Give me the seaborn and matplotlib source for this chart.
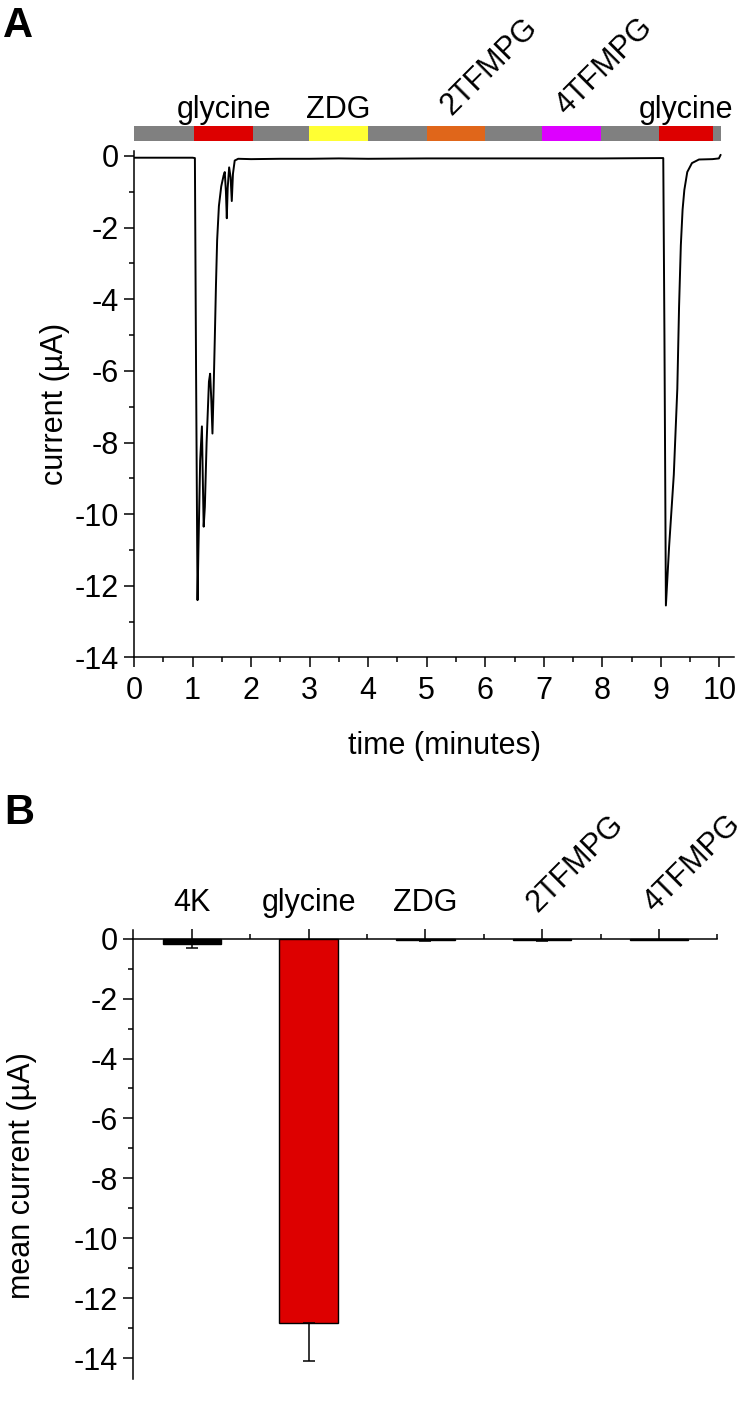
import matplotlib
matplotlib.use('Agg')
import matplotlib.pyplot as plt
import seaborn as sns
import numpy as np
from matplotlib.ticker import MultipleLocator, FixedLocator

# 样式
sns.set_theme(style='ticks', rc={'axes.edgecolor': 'black', 'text.color': 'black',
                                 'axes.labelcolor': 'black', 'xtick.color': 'black',
                                 'ytick.color': 'black'})
plt.rcParams['font.family'] = ['Liberation Sans', 'DejaVu Sans']
plt.rcParams['axes.unicode_minus'] = False

FS = 22

# --- A: 电流记录 ---
time_min = [0.0, 0.5, 1.0, 1.04, 1.06, 1.085, 1.10, 1.13, 1.16, 1.175, 1.19, 1.21,
            1.24, 1.28, 1.30, 1.32, 1.34, 1.36, 1.38, 1.40, 1.42, 1.45, 1.49, 1.53,
            1.55, 1.57, 1.585, 1.60, 1.625, 1.65, 1.67, 1.69, 1.72, 1.78, 2.0, 2.5,
            3.0, 3.5, 4.0, 5.0, 6.0, 7.0, 8.0, 9.0, 9.04, 9.06, 9.085, 9.14, 9.22,
            9.28, 9.31, 9.34, 9.37, 9.40, 9.45, 9.53, 9.65, 9.88, 9.99, 10.02]
current_uA = [-0.05, -0.05, -0.05, -0.06, -6.0, -12.4, -11.0, -8.5, -7.55, -9.0, -10.35, -9.8,
              -8.0, -6.3, -6.08, -6.8, -7.75, -6.5, -5.1, -3.6, -2.35, -1.4, -0.85, -0.55,
              -0.45, -1.0, -1.74, -0.9, -0.32, -0.6, -1.26, -0.5, -0.13, -0.08, -0.09, -0.08,
              -0.08, -0.07, -0.08, -0.07, -0.07, -0.07, -0.07, -0.06, -0.06, -5.0, -12.55, -10.9, -8.9,
              -6.5, -4.2, -2.5, -1.5, -0.95, -0.45, -0.2, -0.1, -0.09, -0.07, 0.03]

# 给药条
wash_start, wash_end = 0.0, 10.03
sol_names = ['glycine', 'ZDG', '2TFMPG', '4TFMPG', 'glycine']
sol_start = [1.03, 2.99, 5.0, 6.97, 8.97]
sol_end = [2.04, 4.0, 6.0, 7.98, 9.89]
sol_colors = ['#dd0000', '#ffff33', '#e0661a', '#dd00ff', '#dd0000']
sol_rot = [0, 0, 45, 45, 0]

# --- B: 平均电流 ---
categories = ['4K', 'glycine', 'ZDG', '2TFMPG', '4TFMPG']
mean_current = [-0.18, -12.81, -0.05, -0.06, -0.04]
sem_current = [0.12, 1.26, 0.02, 0.03, 0.02]
bar_colors = ['#000000', '#dd0000', '#4a1414', '#3c1010', '#202020']
cat_rot = [0, 0, 0, 45, 45]

fig = plt.figure(figsize=(7.52, 14.03), dpi=100)

# ---------------- A ----------------
axA = fig.add_axes([0.1782, 0.5314, 0.798, 0.3613])
sns.lineplot(x=time_min, y=current_uA, ax=axA, color='black', lw=1.4,
             estimator=None, sort=False)

bar_y, bar_h = 0.42, 0.42
axA.broken_barh([(wash_start, wash_end - wash_start)], (bar_y, bar_h),
                facecolors='#808080', edgecolor='none', linewidth=0, clip_on=False)
widths = [e - s for s, e in zip(sol_start, sol_end)]
axA.broken_barh(list(zip(sol_start, widths)), (bar_y, bar_h),
                facecolors=sol_colors, edgecolor='none', linewidth=0, clip_on=False)
for name, s, e, r in zip(sol_names, sol_start, sol_end, sol_rot):
    c = (s + e) / 2
    if r == 0:
        axA.text(c, 1.06, name, ha='center', va='baseline', fontsize=FS, clip_on=False)
    else:
        axA.text(c, 0.97, name, ha='left', va='bottom', rotation=r,
                 rotation_mode='anchor', fontsize=FS, clip_on=False)

axA.set_xlim(0, 10.25)
axA.set_ylim(-14, 0.15)
axA.xaxis.set_major_locator(MultipleLocator(1))
axA.xaxis.set_minor_locator(MultipleLocator(0.5))
axA.yaxis.set_major_locator(MultipleLocator(2))
axA.yaxis.set_minor_locator(MultipleLocator(1))
axA.set_yticks(np.arange(-14, 0.1, 2))
axA.tick_params(which='major', direction='out', length=7, width=1.1, labelsize=FS, pad=4)
axA.tick_params(axis='x', which='major', pad=6)
axA.tick_params(which='minor', direction='out', length=3.6, width=1.1)
for sp in ['top', 'right']:
    axA.spines[sp].set_visible(False)
for sp in ['left', 'bottom']:
    axA.spines[sp].set_linewidth(1.1)
axA.set_xlabel('time (minutes)', fontsize=FS)
axA.set_ylabel('current (µA)', fontsize=FS, labelpad=3)
axA.xaxis.set_label_coords(0.517, -0.145)

# ---------------- B ----------------
axB = fig.add_axes([0.1773, 0.01746, 0.7766, 0.32])
sns.barplot(x=categories, y=mean_current, hue=categories, palette=bar_colors,
            legend=False, width=0.5, edgecolor='black', linewidth=1.0,
            saturation=1, errorbar=None, ax=axB)
axB.errorbar(range(len(categories)), mean_current,
             yerr=[sem_current, [0] * len(categories)], fmt='none',
             ecolor='black', elinewidth=1.1, capsize=4.5, capthick=1.1)

axB.set_xlim(-0.5, 4.5)
axB.set_ylim(-14.67, 0.3)
axB.yaxis.set_major_locator(MultipleLocator(2))
axB.yaxis.set_minor_locator(MultipleLocator(1))
axB.set_yticks(np.arange(-14, 0.1, 2))
axB.xaxis.set_minor_locator(FixedLocator([0.5, 1.5, 2.5, 3.5, 4.5]))
axB.spines['right'].set_visible(False)
axB.spines['bottom'].set_visible(False)
axB.spines['top'].set_position(('data', 0))
axB.spines['top'].set_linewidth(1.1)
axB.spines['left'].set_linewidth(1.1)
axB.xaxis.set_ticks_position('top')
axB.tick_params(which='major', direction='out', length=7, width=1.1, labelsize=FS, pad=4)
axB.tick_params(axis='x', which='major', pad=8)
axB.tick_params(which='minor', direction='out', length=3.5, width=1.1)
axB.set_xlabel('')
axB.set_ylabel('mean current (µA)', fontsize=FS, labelpad=3)
axB.yaxis.set_label_coords(-0.165, 0.453)
for lab, r in zip(axB.get_xticklabels(), cat_rot):
    if r:
        lab.set_rotation(r)
        lab.set_rotation_mode('anchor')
        lab.set_ha('left')

# 面板字母
fig.text(0.004, 1 - 6 / 1403, 'A', fontsize=30, fontweight='bold', va='top')
fig.text(0.006, 1 - 793 / 1403, 'B', fontsize=30, fontweight='bold', va='top')

fig.savefig('out.png', dpi=100)
